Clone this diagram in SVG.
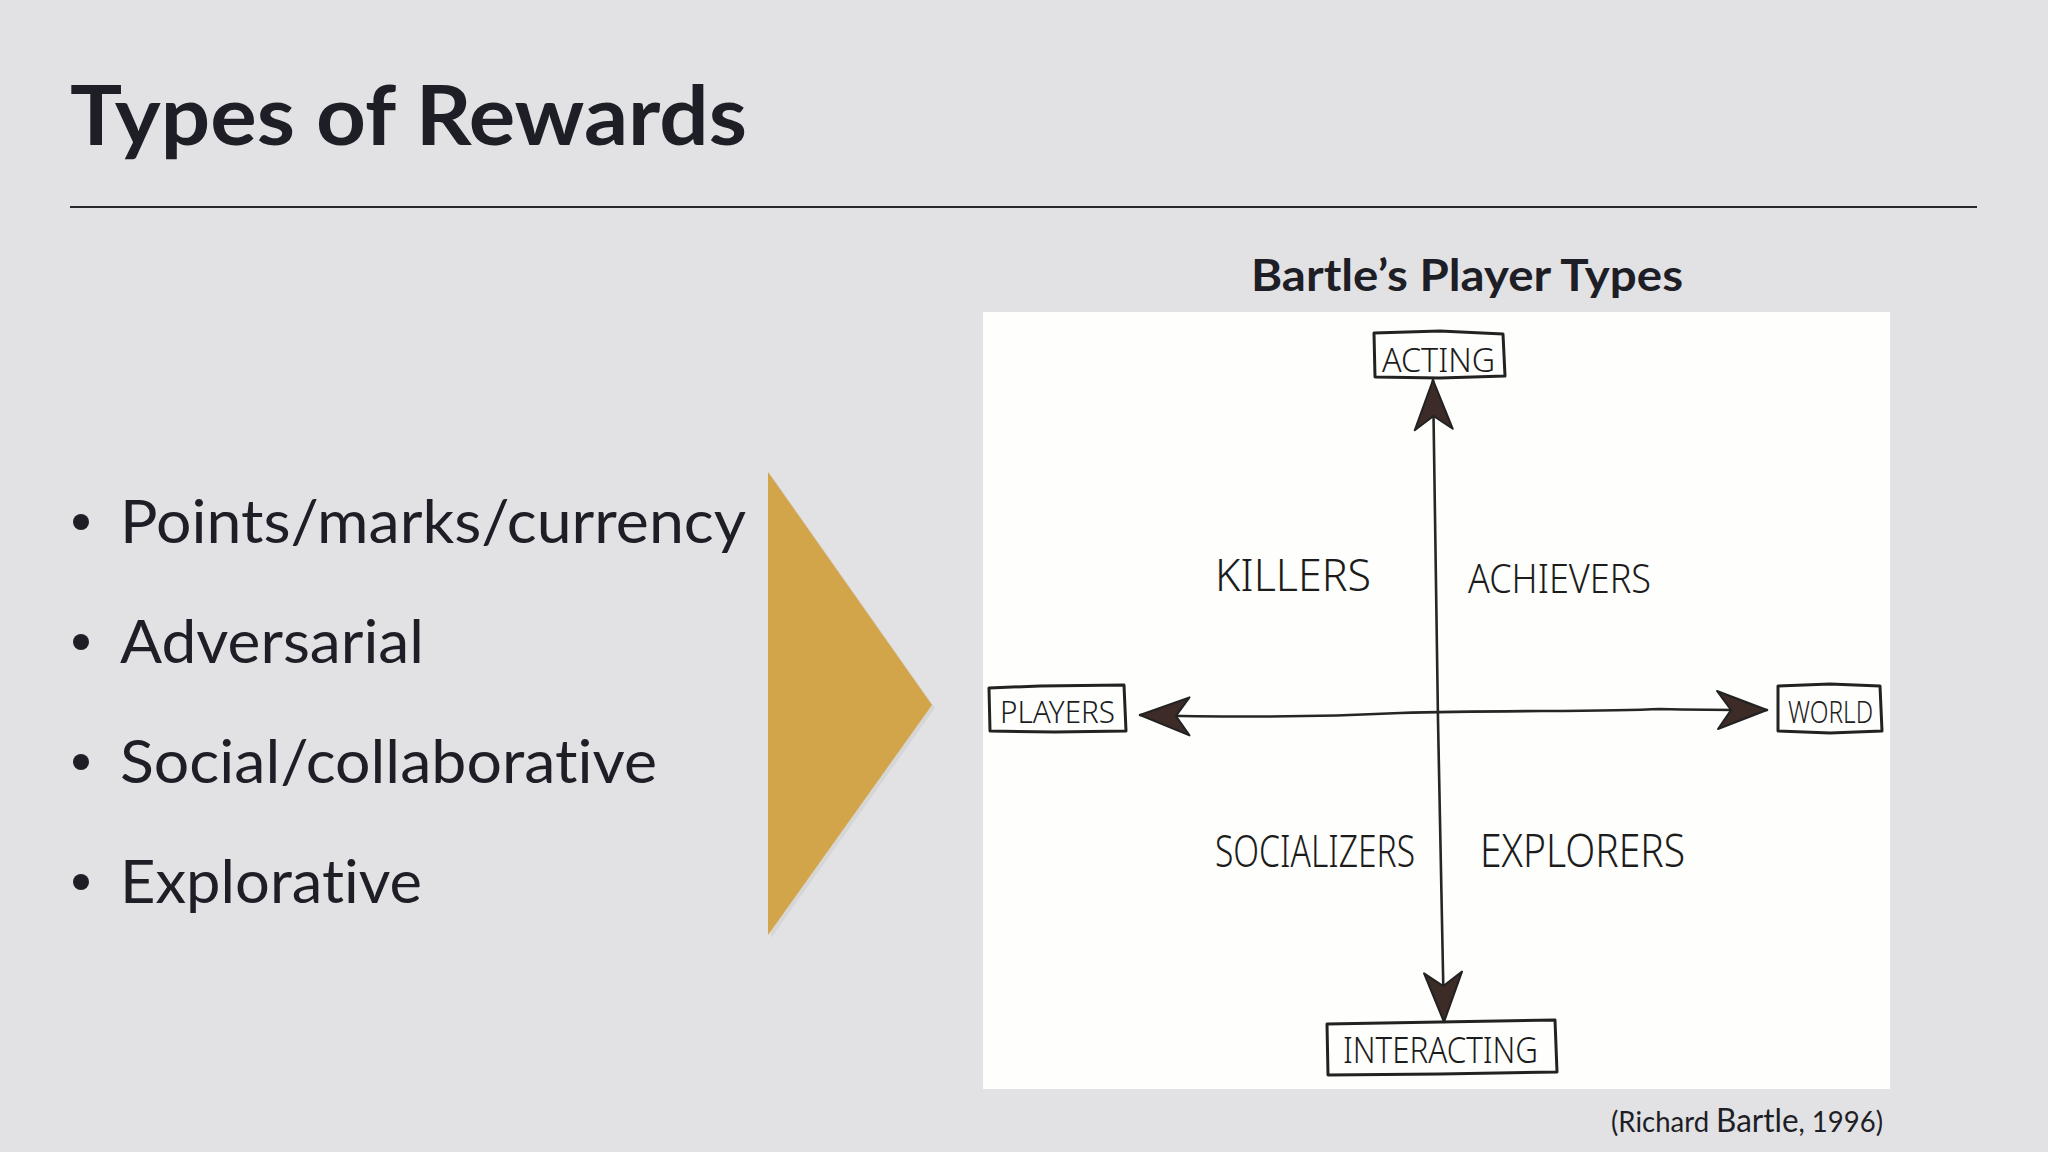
<svg xmlns="http://www.w3.org/2000/svg" width="2048" height="1152" viewBox="0 0 2048 1152">
<defs>
<style>
text{font-variant-ligatures:none}
.slide{font-family:Lato,"Open Sans","Liberation Sans",sans-serif;fill:#1e1e26}
.title{font-size:82px;font-weight:700}
.bullet{font-size:60px}
.hand{font-family:"Noto Sans","DejaVu Sans",sans-serif;fill:#1c1c1c;font-weight:300}
.box{fill:none;stroke:#222;stroke-width:3;stroke-linejoin:round;stroke-linecap:round}
.axis{fill:none;stroke:#262626;stroke-width:2.6;stroke-linecap:round}
</style>
<marker id="dart" viewBox="-54 -22 58 44" markerWidth="58" markerHeight="44" refX="0" refY="0" markerUnits="userSpaceOnUse" orient="auto-start-reverse">
<path d="M0,0 L-50,-19 L-36,0 L-49,19 Z" fill="#3d2b27" stroke="#222" stroke-width="2" stroke-linejoin="round"/>
</marker>
</defs>
<rect width="2048" height="1152" fill="#e2e2e4"/>
<g id="title"><text class="slide title" x="70" y="145" textLength="677" lengthAdjust="spacingAndGlyphs">Types of Rewards</text></g>
<line x1="70" y1="207" x2="1977" y2="207" stroke="#2a2a2a" stroke-width="2"/>
<g id="bullets">
<circle cx="81" cy="522" r="8" fill="#1e1e26"/>
<text class="slide bullet" x="120" y="543" textLength="626" lengthAdjust="spacingAndGlyphs">Points/marks/currency</text>
<circle cx="81" cy="642" r="8" fill="#1e1e26"/>
<text class="slide bullet" x="120" y="663" textLength="304" lengthAdjust="spacingAndGlyphs">Adversarial</text>
<circle cx="81" cy="762" r="8" fill="#1e1e26"/>
<text class="slide bullet" x="120" y="783" textLength="537" lengthAdjust="spacingAndGlyphs">Social/collaborative</text>
<circle cx="81" cy="882" r="8" fill="#1e1e26"/>
<text class="slide bullet" x="120" y="903" textLength="302" lengthAdjust="spacingAndGlyphs">Explorative</text>
</g>
<g id="chevron">
<polygon points="771,475 935,708 771,938" fill="#c9c9c9" opacity="0.5"/>
<polygon points="768,472 932,705 768,935" fill="#d3a54b"/>
</g>
<g id="figure-title"><text class="slide" x="1251" y="291" font-size="44" font-weight="700" textLength="432" lengthAdjust="spacingAndGlyphs">Bartle’s Player Types</text></g>
<rect id="picture" x="983" y="312" width="907" height="777" fill="#fefefc"/>
<g id="connectors">
<path class="axis" d="M1433,380 C1435,520 1436,620 1438,720 C1440,820 1442,920 1444,1022" marker-start="url(#dart)" marker-end="url(#dart)"/>
<path class="axis" d="M1140,715 C1250,718 1320,717 1400,713 C1500,710 1600,712 1660,709 C1700,710 1740,710 1767,710" marker-start="url(#dart)" marker-end="url(#dart)"/>
</g>
<g id="acting">
<path class="box" d="M1374,333 L1440,331 L1503,334 L1505,376 L1440,378 L1375,377 Z"/>
<text class="hand" x="1382" y="372" font-size="33" textLength="113" lengthAdjust="spacingAndGlyphs">ACTING</text>
</g>
<g id="interacting">
<path class="box" d="M1327,1024 L1440,1022 L1555,1020 L1557,1072 L1440,1074 L1328,1075 Z"/>
<text class="hand" x="1343" y="1063" font-size="36" textLength="195" lengthAdjust="spacingAndGlyphs">INTERACTING</text>
</g>
<g id="players">
<path class="box" d="M989,688 L1040,686 L1124,685 L1126,731 L1055,732 L990,731 Z"/>
<text class="hand" x="1000" y="723" font-size="32" textLength="115" lengthAdjust="spacingAndGlyphs">PLAYERS</text>
</g>
<g id="world">
<path class="box" d="M1778,686 L1830,684 L1880,686 L1882,731 L1830,733 L1778,731 Z"/>
<text class="hand" x="1788" y="723" font-size="32" textLength="85" lengthAdjust="spacingAndGlyphs">WORLD</text>
</g>
<g id="killers"><text class="hand" x="1215" y="591" font-size="44" textLength="156" lengthAdjust="spacingAndGlyphs">KILLERS</text></g>
<g id="achievers"><text class="hand" x="1468" y="593" font-size="40" textLength="183" lengthAdjust="spacingAndGlyphs">ACHIEVERS</text></g>
<g id="socializers"><text class="hand" x="1215" y="867" font-size="44" textLength="200" lengthAdjust="spacingAndGlyphs">SOCIALIZERS</text></g>
<g id="explorers"><text class="hand" x="1480" y="867" font-size="46" textLength="205" lengthAdjust="spacingAndGlyphs">EXPLORERS</text></g>
<g id="citation"><text class="slide" x="1611" y="1132" font-size="28" textLength="272" lengthAdjust="spacingAndGlyphs">(Richard <tspan font-size="32">Bartle</tspan>, 1996)</text></g>
</svg>
